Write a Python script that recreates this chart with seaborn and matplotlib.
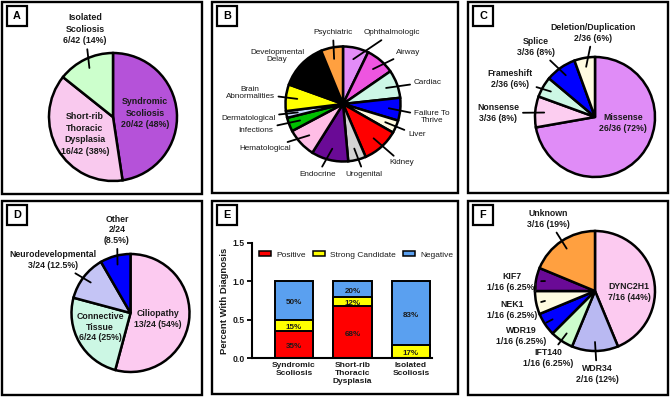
import matplotlib
matplotlib.use("Agg")
import matplotlib.pyplot as plt
import numpy as np
import pandas as pd
import seaborn as sns
from matplotlib.patches import Rectangle, Patch

# ---------------- data ----------------
a_labels = ["Syndromic\nScoliosis\n20/42 (48%)",
            "Short-rib\nThoracic\nDysplasia\n16/42 (38%)",
            "Isolated\nScoliosis\n6/42 (14%)"]
a_values = [20, 16, 6]
a_colors = ["#b552d9", "#f9c9ee", "#ccffcc"]

b_labels = ["Ophthalmologic", "Airway", "Cardiac", "Failure To\nThrive", "Liver",
            "Kidney", "Urogenital", "Endocrine", "Hematological", "Infections",
            "Dermatological", "Brain\nAbnormalities", "Developmental\nDelay", "Psychiatric"]
b_values = [7.2, 8.2, 7.9, 6.4, 3.6, 10.3, 5.0, 10.4, 8.3, 3.9, 1.9, 7.5, 13.3, 6.2]
b_colors = ["#e38cf7", "#ee55e0", "#ccf7e6", "#0000ff", "#fffbe0", "#ff0000", "#d3d3d3",
            "#6a0a96", "#ffbde6", "#00c000", "#c8dcff", "#ffff00", "#000000", "#ffa040"]

c_labels = ["Missense\n26/36 (72%)", "Nonsense\n3/36 (8%)", "Frameshift\n2/36 (6%)",
            "Splice\n3/36 (8%)", "Deletion/Duplication\n2/36 (6%)"]
c_values = [26, 3, 2, 3, 2]
c_colors = ["#e08cf7", "#fccdf0", "#ccf7e4", "#0000ff", "#fffbe0"]

d_labels = ["Ciliopathy\n13/24 (54%)", "Connective\nTissue\n6/24 (25%)",
            "Neurodevelopmental\n3/24 (12.5%)", "Other\n2/24\n(8.5%)"]
d_values = [13, 6, 3, 2]
d_colors = ["#fccaf0", "#ccf7e4", "#c4c4f5", "#0000ff"]

e_groups = ["Syndromic\nScoliosis", "Short-rib\nThoracic\nDysplasia", "Isolated\nScoliosis"]
e_positive = [0.35, 0.68, 0.00]
e_strong = [0.15, 0.12, 0.17]
e_negative = [0.50, 0.20, 0.83]
e_series = ["Positive", "Strong Candidate", "Negative"]
e_colors = ["#ff0000", "#ffff00", "#5aa0f0"]
e_yticks = [0.0, 0.5, 1.0, 1.5]

f_labels = ["DYNC2H1\n7/16 (44%)", "WDR34\n2/16 (12%)", "IFT140\n1/16 (6.25%)",
            "WDR19\n1/16 (6.25%)", "NEK1\n1/16 (6.25%)", "KIF7\n1/16 (6.25%)",
            "Unknown\n3/16 (19%)"]
f_values = [7, 2, 1, 1, 1, 1, 3]
f_colors = ["#fccaf0", "#b9b9f2", "#ccfccc", "#0000ff", "#fffbe0", "#6a0a96", "#ffa040"]

# ---------------- style ----------------
sns.set_theme(style="white")
plt.rcParams["font.family"] = ["Liberation Sans", "DejaVu Sans"]
TXT = "#1a1a1a"
W, H = 670, 397

fig = plt.figure(figsize=(6.7, 3.97), dpi=100)
bg = fig.add_axes([0, 0, 1, 1])


def Y(y):
    return H - y


# panel frames and letters (layout in pixels, y measured from top)
panels = {"A": (1.5, 2, 202, 193.5), "B": (211.5, 2, 458, 193),
          "C": (467.5, 2, 667.5, 193), "D": (1.5, 201, 202, 395),
          "E": (211.5, 201, 458, 394), "F": (467.5, 201, 667.5, 395)}
for key, (x0, y0, x1, y1) in panels.items():
    bg.add_patch(Rectangle((x0, Y(y1)), x1 - x0, y1 - y0, fill=False,
                           lw=1.7, edgecolor="black", zorder=1))
    bx, by = x0 + 5.5, y0 + 4
    bg.add_patch(Rectangle((bx, Y(by + 19.5)), 20, 19.5, fill=False,
                           lw=1.6, edgecolor="black", zorder=1))
    bg.text(bx + 10, Y(by + 10), key, ha="center", va="center",
            fontsize=7.8, fontweight="bold", color="black")


def draw_pie(values, colors, labels, center, radius, text_pos, lined,
             weight="bold", size=6.3, spacing=1.2, frac=0.85):
    cx, cy = center
    wedges, _ = bg.pie(values, colors=colors, startangle=90, counterclock=False,
                       center=(cx, Y(cy)), radius=radius, frame=True,
                       wedgeprops=dict(edgecolor="black", linewidth=1.8))
    for w, lab, (tx, ty), ln in zip(wedges, labels, text_pos, lined):
        if ln:
            mid = np.deg2rad((w.theta1 + w.theta2) / 2)
            px = cx + frac * radius * np.cos(mid)
            py = Y(cy) + frac * radius * np.sin(mid)
            bg.annotate(lab, xy=(px, py), xytext=(tx, Y(ty)), ha="center", va="center",
                        fontsize=size, fontweight=weight, color=TXT,
                        linespacing=spacing,
                        arrowprops=dict(arrowstyle="-", lw=1.3, color="black",
                                        shrinkA=0.5, shrinkB=0))
        else:
            bg.text(tx, Y(ty), lab, ha="center", va="center", fontsize=size,
                    fontweight=weight, color=TXT, linespacing=spacing)


# Panel A
draw_pie(a_values, a_colors, a_labels, (113, 117), 64,
         [(145, 113), (85, 134), (85, 29)], [False, False, True], spacing=1.4, size=6.4)

# Panel B
b_text = [(392, 33), (408, 52), (428, 82), (432, 117), (417, 135), (402, 163),
          (364, 174), (318, 174), (265, 149), (256, 130), (248, 118), (250, 93),
          (277, 56), (333, 33)]
draw_pie(b_values, b_colors, b_labels, (343, 104), 57.5, b_text,
         [True] * len(b_values), weight="normal", size=5.9, spacing=1.15, frac=0.8)

# Panel C
draw_pie(c_values, c_colors, c_labels, (595, 117), 60,
         [(623, 123), (498, 113), (510, 79), (536, 47), (593, 33)],
         [False, True, True, True, True])

# Panel D
draw_pie(d_values, d_colors, d_labels, (130.5, 313), 59,
         [(158, 319), (100, 327), (53, 260), (117, 230)],
         [False, False, True, True])

# Panel F
draw_pie(f_values, f_colors, f_labels, (595, 291), 60,
         [(629, 292), (597, 374), (548, 358), (521, 336), (512, 310), (512, 282), (548, 219)],
         [False, True, True, True, True, True, True])

bg.set_xlim(0, W)
bg.set_ylim(0, H)
bg.set_aspect("auto")
bg.axis("off")

# Panel E : stacked bars
axE = fig.add_axes([252 / W, (H - 358) / H, (432 - 252) / W, (358 - 243) / H])
df = pd.DataFrame({"group": e_groups, "Positive": e_positive,
                   "Strong Candidate": e_strong, "Negative": e_negative})
df["top_strong"] = df["Positive"] + df["Strong Candidate"]
df["top_negative"] = df["top_strong"] + df["Negative"]

for col, color in [("top_negative", e_colors[2]), ("top_strong", e_colors[1]),
                   ("Positive", e_colors[0])]:
    sns.barplot(data=df, x="group", y=col, color=color, saturation=1, width=0.66,
                edgecolor="black", linewidth=1.4, ax=axE, errorbar=None)

bottoms = np.zeros(len(df))
for series in e_series:
    vals = df[series].to_numpy()
    for i, v in enumerate(vals):
        if v > 0:
            axE.text(i, bottoms[i] + v / 2 - 0.03, f"{v * 100:.0f}%", ha="center",
                     va="center", fontsize=5.8, fontweight="bold", color=TXT)
    bottoms = bottoms + vals

axE.set_xlim(-0.72, 2.36)
axE.set_ylim(0, 1.5)
axE.set_yticks(e_yticks)
axE.set_yticklabels([f"{t:.1f}" for t in e_yticks], fontsize=6.2, fontweight="bold", color=TXT)
axE.set_xticks(range(len(e_groups)))
axE.set_xticklabels(e_groups, fontsize=6.0, fontweight="bold", color=TXT, linespacing=1.15)
axE.tick_params(axis="y", length=3.5, width=1.3, pad=1.5, left=True, direction="out", color="black")
axE.tick_params(axis="x", length=0, pad=3)
axE.set_xlabel("")
axE.set_ylabel("Percent With Diagnosis", fontsize=6.8, fontweight="bold", color=TXT, labelpad=3)
for s in ["top", "right"]:
    axE.spines[s].set_visible(False)
for s in ["left", "bottom"]:
    axE.spines[s].set_linewidth(1.5)
    axE.spines[s].set_color("black")
axE.set_facecolor("none")

handles = [Patch(facecolor=c, edgecolor="black", linewidth=1.1) for c in e_colors]
axE.legend(handles, e_series, loc="center left", bbox_to_anchor=(0.02, 0.895), ncol=3,
           frameon=False, fontsize=6, handlelength=1.5, handleheight=0.55,
           handletextpad=0.6, columnspacing=0.8, borderaxespad=0, labelcolor=TXT)

fig.savefig("out.png", dpi=100)
